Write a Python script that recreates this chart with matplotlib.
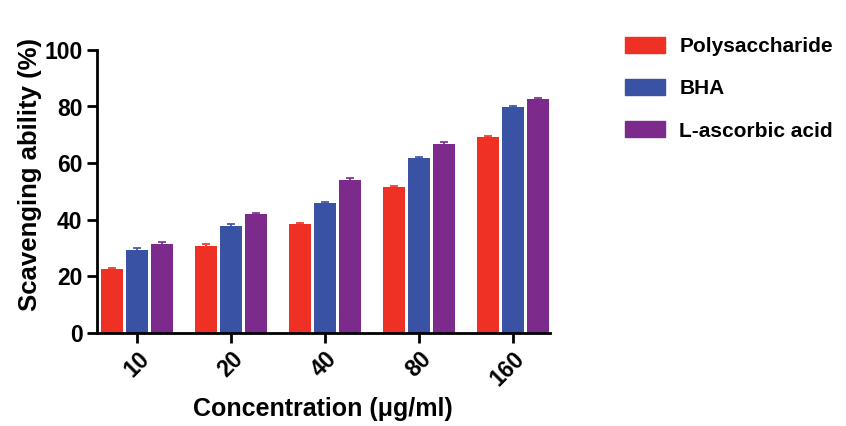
import numpy as np
from matplotlib import pyplot as plt
from matplotlib.patches import Patch

concentrations = ['10', '20', '40', '80', '160']
series_names = ['Polysaccharide', 'BHA', 'L-ascorbic acid']
polysaccharide = [22.5, 30.8, 38.5, 51.5, 69.1]
bha = [29.5, 37.9, 45.9, 61.7, 79.7]
ascorbic = [31.6, 41.9, 54.2, 66.9, 82.5]
errors_poly = [0.5, 0.5, 0.5, 0.6, 0.5]
errors_bha = [0.6, 0.5, 0.5, 0.5, 0.5]
errors_asc = [0.5, 0.5, 0.5, 0.5, 0.5]

colors = ['#EE3124', '#3A52A4', '#7C2A8C']

plt.rcParams['font.family'] = ['Liberation Sans', 'DejaVu Sans']
plt.rcParams['font.weight'] = 'bold'

fig = plt.figure(figsize=(8.46, 4.26), dpi=100)
ax = fig.add_axes([0.1147, 0.218, 0.535, 0.665])

x = np.arange(len(concentrations))
pitch = 0.266
width = 0.235
all_vals = [polysaccharide, bha, ascorbic]
all_errs = [errors_poly, errors_bha, errors_asc]
for i, (vals, errs, c) in enumerate(zip(all_vals, all_errs, colors)):
    ax.bar(x + (i - 1) * pitch, vals, width, color=c, yerr=errs,
           error_kw=dict(ecolor=c, capsize=3, elinewidth=1.2, capthick=1.2))

ax.set_xlim(-0.43, 4.39)
ax.set_ylim(0, 100)
ax.set_yticks([0, 20, 40, 60, 80, 100])
ax.set_xticks(x)
ax.set_xticklabels(concentrations, rotation=45, ha='right', rotation_mode='anchor')
for s in ['top', 'right']:
    ax.spines[s].set_visible(False)
for s in ['left', 'bottom']:
    ax.spines[s].set_linewidth(2)
ax.tick_params(width=2, length=7, labelsize=16.5)
for lbl in ax.get_xticklabels() + ax.get_yticklabels():
    lbl.set_fontweight('bold')

ax.set_ylabel('Scavenging ability (%)', fontsize=18.5, fontweight='bold')
ax.yaxis.set_label_coords(-0.122, 0.56)
ax.set_xlabel('Concentration (μg/ml)', fontsize=18, fontweight='bold', labelpad=4)

handles = [Patch(color=c) for c in colors]
fig.legend(handles, series_names, loc='upper left', bbox_to_anchor=(0.717, 0.957),
           frameon=False, prop=dict(size=15, weight='bold'),
           handlelength=1.9, handleheight=0.8, labelspacing=1.1, handletextpad=0.7)

fig.savefig('out.png', dpi=100)
